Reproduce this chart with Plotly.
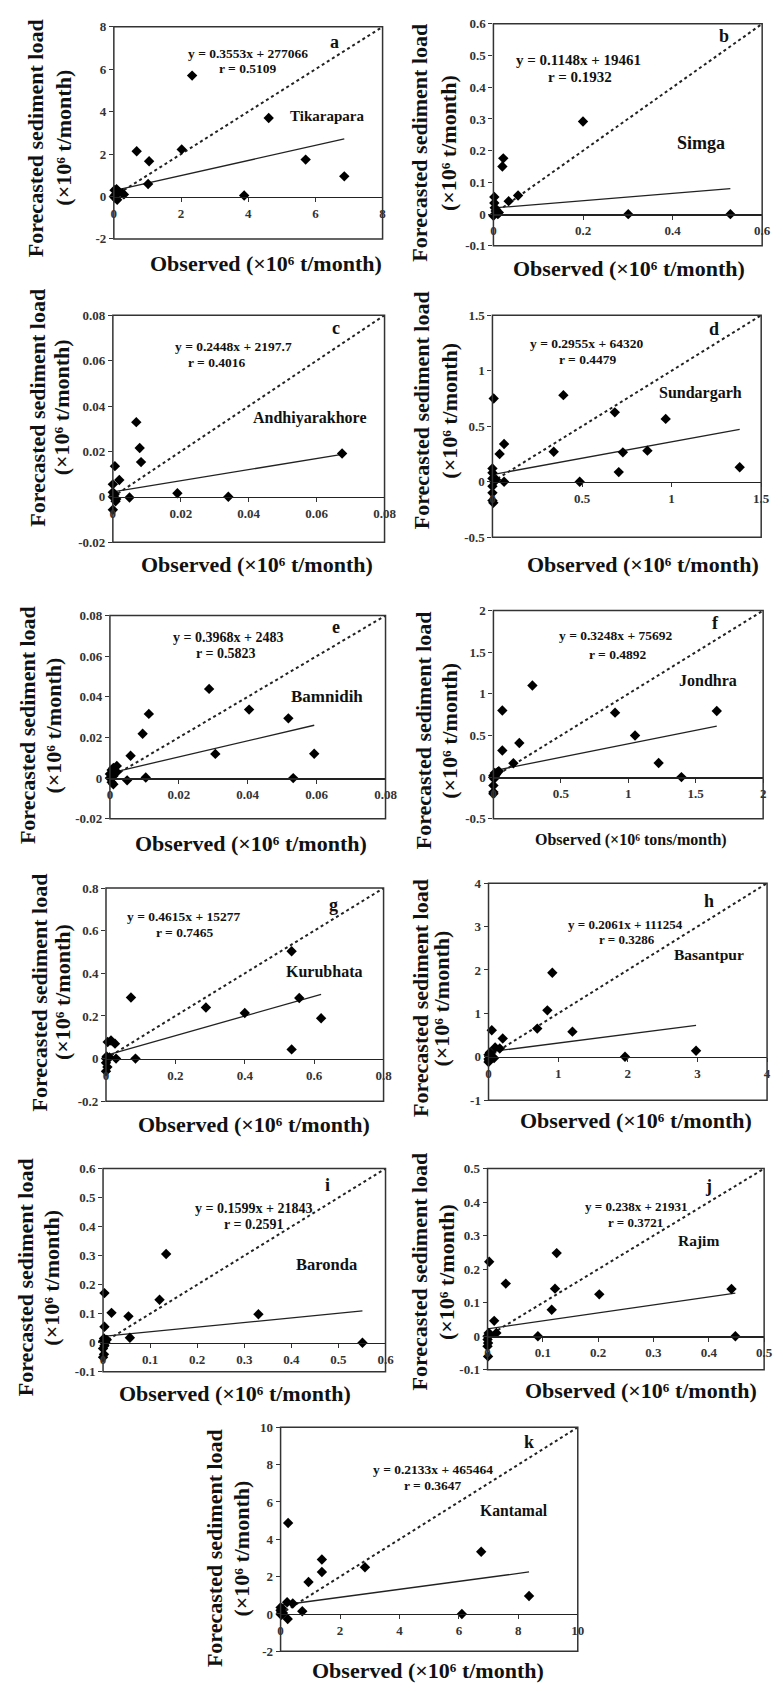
import plotly.graph_objects as go

W, H = 783, 1691

# ---------------- data ----------------
panel_letters = ["a", "b", "c", "d", "e", "f", "g", "h", "i", "j", "k"]
stations = ["Tikarapara", "Simga", "Andhiyarakhore", "Sundargarh", "Bamnidih", "Jondhra",
            "Kurubhata", "Basantpur", "Baronda", "Rajim", "Kantamal"]
slopes = [0.3553, 0.1148, 0.2448, 0.2955, 0.3968, 0.3248, 0.4615, 0.2061, 0.1599, 0.238, 0.2133]
intercepts = [277066, 19461, 2197.7, 64320, 2483, 75692, 15277, 111254, 21843, 21931, 465464]
r_values = [0.5109, 0.1932, 0.4016, 0.4479, 0.5823, 0.4892, 0.7465, 0.3286, 0.2591, 0.3721, 0.3647]

obs_a = [2.33, 4.61, 0.68, 2.02, 1.05, 5.71, 6.86, 1.02, 3.88, 0.02, 0.05, 0.10, 0.00, 0.15, 0.25, 0.08, 0.03, 0.30]
pred_a = [5.70, 3.70, 2.13, 2.22, 1.66, 1.74, 0.95, 0.59, 0.05, 0.30, 0.10, -0.15, 0.00, 0.20, 0.15, 0.35, -0.05, 0.10]

obs_b = [0.200, 0.022, 0.020, 0.055, 0.034, 0.002, 0.002, 0.005, 0.010, 0.000, 0.012, 0.003, 0.301, 0.529]
pred_b = [0.292, 0.176, 0.150, 0.059, 0.041, 0.054, 0.035, 0.010, 0.000, -0.005, 0.005, 0.020, 0.0, 0.0]

obs_c = [0.0675, 0.0079, 0.0083, 0.0069, 0.0006, 0.0019, 0.0, 0.019, 0.0049, 0.034, 0.0, 0.0, 0.0005, 0.001, 0.0, 0.0008]
pred_c = [0.0191, 0.0215, 0.0153, 0.0329, 0.0135, 0.0074, 0.0055, 0.0016, -0.0003, 0.0, -0.0057, 0.0, 0.001, -0.001, 0.002, -0.002]

obs_d = [0.007, 0.396, 0.683, 0.967, 0.04, 0.065, 0.342, 0.728, 0.865, 0.705, 1.38, 0.487, 0.065,
         0.0, 0.0, 0.0, 0.01, 0.0, 0.0, 0.0, 0.005, 0.02]
pred_d = [0.75, 0.78, 0.625, 0.566, 0.25, 0.34, 0.27, 0.265, 0.28, 0.087, 0.13, 0.0, 0.0,
          0.12, 0.08, 0.03, 0.0, -0.04, -0.1, -0.17, -0.19, 0.02]

obs_e = [0.0288, 0.0404, 0.0113, 0.0518, 0.0095, 0.0593, 0.0306, 0.006, 0.0104, 0.0532, 0.005,
         0.0005, 0.001, 0.002, 0.0, 0.0, 0.0005, 0.001, 0.002, 0.001]
pred_e = [0.0439, 0.0337, 0.0316, 0.0294, 0.0218, 0.012, 0.0119, 0.011, 0.0003, 0.0, -0.0011,
          0.004, 0.005, 0.006, 0.002, 0.0, -0.002, -0.003, 0.003, 0.001]

obs_f = [0.289, 0.066, 0.902, 1.656, 1.05, 0.192, 0.066, 0.148, 1.225, 1.394, 0.01, 0.03, 0.0,
         0.02, 0.0, 0.005, 0.01, 0.04, 0.0, 0.0, 0.0]
pred_f = [1.10, 0.80, 0.774, 0.794, 0.50, 0.41, 0.32, 0.167, 0.17, 0.0, 0.05, 0.06, 0.02,
          0.03, 0.0, -0.02, 0.01, 0.07, -0.1, -0.18, -0.2]

obs_g = [0.535, 0.072, 0.288, 0.40, 0.557, 0.62, 0.535, 0.085, 0.029, 0.0145, 0.005, 0.026,
         0.0, 0.002, 0.0, 0.004, 0.01, 0.0]
pred_g = [0.504, 0.287, 0.240, 0.214, 0.284, 0.189, 0.043, 0.0, 0.0, 0.085, 0.078, 0.07,
          0.0, 0.01, -0.02, -0.04, 0.005, -0.06]

obs_h = [0.916, 0.845, 0.70, 1.205, 0.047, 0.204, 0.095, 0.161, 2.98, 1.96, 0.0, 0.02, 0.05,
         0.0, 0.08, 0.03, 0.0, 0.01]
pred_h = [1.935, 1.07, 0.65, 0.58, 0.61, 0.42, 0.214, 0.19, 0.138, 0.0, 0.05, 0.1, 0.0,
          -0.05, -0.03, 0.03, -0.12, -0.08]

obs_i = [0.134, 0.120, 0.330, 0.054, 0.018, 0.003, 0.003, 0.057, 0.551, 0.002, 0.005, 0.0,
         0.008, 0.003, 0.0, 0.002, 0.0]
pred_i = [0.306, 0.148, 0.098, 0.091, 0.103, 0.171, 0.055, 0.017, 0.0, 0.015, 0.0, 0.005,
          0.01, -0.01, -0.02, -0.04, -0.05]

obs_j = [0.003, 0.033, 0.125, 0.122, 0.202, 0.116, 0.441, 0.012, 0.016, 0.091, 0.448, 0.0,
         0.002, 0.005, 0.0, 0.001, 0.0, 0.001]
pred_j = [0.222, 0.157, 0.248, 0.142, 0.125, 0.079, 0.141, 0.046, 0.01, 0.0, 0.0, 0.0,
          0.01, 0.005, -0.01, -0.02, -0.03, -0.06]

obs_k = [0.254, 6.75, 1.39, 1.39, 2.84, 0.94, 8.36, 0.22, 0.41, 0.73, 6.10, 0.24, 0.0, 0.02,
         0.05, 0.0, 0.03, 0.08, 0.0]
pred_k = [4.875, 3.33, 2.92, 2.25, 2.5, 1.71, 0.96, 0.625, 0.56, 0.146, 0.0, -0.27, 0.0, 0.1,
          0.3, 0.2, -0.05, 0.05, 0.35]

observed = [obs_a, obs_b, obs_c, obs_d, obs_e, obs_f, obs_g, obs_h, obs_i, obs_j, obs_k]
predicted = [pred_a, pred_b, pred_c, pred_d, pred_e, pred_f, pred_g, pred_h, pred_i, pred_j, pred_k]

xtick_labels = [
    ["0", "2", "4", "6", "8"],
    ["0", "0.2", "0.4", "0.6"],
    ["0", "0.02", "0.04", "0.06", "0.08"],
    ["0", "0.5", "1", "1.5"],
    ["0", "0.02", "0.04", "0.06", "0.08"],
    ["0", "0.5", "1", "1.5", "2"],
    ["0", "0.2", "0.4", "0.6", "0.8"],
    ["0", "1", "2", "3", "4"],
    ["0", "0.1", "0.2", "0.3", "0.4", "0.5", "0.6"],
    ["0", "0.1", "0.2", "0.3", "0.4", "0.5"],
    ["0", "2", "4", "6", "8", "10"],
]
ytick_labels = [
    ["-2", "0", "2", "4", "6", "8"],
    ["-0.1", "0", "0.1", "0.2", "0.3", "0.4", "0.5", "0.6"],
    ["-0.02", "0", "0.02", "0.04", "0.06", "0.08"],
    ["-0.5", "0", "0.5", "1", "1.5"],
    ["-0.02", "0", "0.02", "0.04", "0.06", "0.08"],
    ["-0.5", "0", "0.5", "1", "1.5", "2"],
    ["-0.2", "0", "0.2", "0.4", "0.6", "0.8"],
    ["-1", "0", "1", "2", "3", "4"],
    ["-0.1", "0", "0.1", "0.2", "0.3", "0.4", "0.5", "0.6"],
    ["-0.1", "0", "0.1", "0.2", "0.3", "0.4", "0.5"],
    ["-2", "0", "2", "4", "6", "8", "10"],
]
x_titles = ["Observed (×10⁶ t/month)"] * 11
x_titles[5] = "Observed (×10⁶ tons/month)"
y_title_1 = "Forecasted sediment load"
y_title_2 = "(×10⁶ t/month)"

# ---------------- layout (pixels) ----------------
# plot frame: left, right, top, bottom
frames = [
    (113, 387, 20, 234), (500, 774, 17, 241),
    (112, 389, 311, 540), (499, 773, 311, 535),
    (109, 390, 614, 819), (500, 775, 609, 819),
    (105, 388, 889, 1104), (495, 779, 884, 1103),
    (102, 390, 1172, 1377), (494, 776, 1172, 1375),
    (283, 586, 1433, 1659),
]
# annotation centres (x, y) in pixels
letter_pos = [(338, 35), (735, 29), (340, 324), (725, 325), (339, 626), (726, 622),
              (337, 906), (720, 902), (331, 1189), (719, 1190), (536, 1448)]
eq_pos = [(250, 47), (587, 53), (235, 343), (595, 340), (229, 636), (625, 634),
          (185, 918), (635, 926), (255, 1212), (646, 1210), (438, 1476)]
r_pos = [(250, 62), (588, 71), (218, 359), (596, 356), (227, 652), (627, 653),
         (186, 934), (636, 941), (255, 1228), (645, 1226), (438, 1492)]
name_pos = [(330, 110), (712, 137), (313, 415), (711, 389), (330, 696), (719, 680),
            (327, 973), (720, 956), (330, 1269), (709, 1245), (521, 1517)]
eq_size = [13.5, 15, 13.5, 13.5, 14, 13.5, 13.5, 13, 14, 13, 13.5]
name_size = [15, 18, 16, 16, 17, 16, 16, 15.5, 16.5, 15.5, 15.7]
xtitle_pos = [(268, 259), (638, 264), (259, 562), (653, 562), (253, 844), (640, 840),
              (256, 1127), (645, 1123), (237, 1399), (650, 1396), (433, 1678)]
xtitle_size = [22, 22, 22, 22, 22, 16, 22, 22, 22, 22, 22]
ytitle_pos = [(33, 62, 132), (425, 454, 137), (35, 60, 404), (427, 455, 407),
              (25, 52, 725), (429, 455, 730), (37, 60, 994), (425, 447, 1000),
              (23, 50, 1282), (425, 452, 1276), (215, 243, 1555)]

FONT = "Liberation Serif"
tickfont = dict(family=FONT, size=13, color="#333333", weight="bold")


def px(x):
    return x / W


def py(y):
    return 1 - y / H


def label(x, y, text, size, angle=0):
    return dict(x=px(x), y=py(y), xref="paper", yref="paper", text=text, showarrow=False,
                xanchor="center", yanchor="middle", textangle=angle,
                font=dict(family=FONT, size=size, color="#111111", weight="bold"))


fig = go.Figure()
annotations = []
shapes = []
layout_axes = {}

for p in range(11):
    xid = "x" if p == 0 else f"x{p + 1}"
    yid = "y" if p == 0 else f"y{p + 1}"
    xkey = "xaxis" if p == 0 else f"xaxis{p + 1}"
    ykey = "yaxis" if p == 0 else f"yaxis{p + 1}"
    l, r, t, b = frames[p]
    xt = xtick_labels[p]
    yt = ytick_labels[p]
    xmax = float(xt[-1])
    ymin = float(yt[0])
    ymax = float(yt[-1])
    y0, y1 = py(b), py(t)
    zero_pos = y0 + (0 - ymin) / (ymax - ymin) * (y1 - y0)

    layout_axes[xkey] = dict(
        domain=[px(l), px(r)], range=[0, xmax], anchor="free", position=zero_pos,
        tickvals=[float(v) for v in xt], ticktext=xt, ticks="outside", ticklen=4,
        tickwidth=1, tickcolor="#333333", showline=True, linecolor="#222222", linewidth=1.5,
        showgrid=False, zeroline=False, tickfont=tickfont, fixedrange=True,
    )
    layout_axes[ykey] = dict(
        domain=[y0, y1], range=[ymin, ymax], anchor=xid,
        tickvals=[float(v) for v in yt], ticktext=yt, ticks="outside", ticklen=4,
        tickwidth=1, tickcolor="#333333", showline=False, showgrid=False, zeroline=False,
        tickfont=tickfont, fixedrange=True,
    )
    shapes.append(dict(type="rect", xref=f"{xid} domain", yref=f"{yid} domain",
                       x0=0, x1=1, y0=0, y1=1, line=dict(color="#333333", width=1.5),
                       layer="above"))

    obs = observed[p]
    pred = predicted[p]
    # 1:1 line
    fig.add_trace(go.Scatter(x=[0, xmax], y=[0, xmax], mode="lines", xaxis=xid, yaxis=yid,
                             line=dict(color="#222222", width=2, dash="dot"),
                             showlegend=False, hoverinfo="skip"))
    # regression line
    xs = [min(obs), max(obs)]
    ys = [slopes[p] * v + intercepts[p] / 1e6 for v in xs]
    fig.add_trace(go.Scatter(x=xs, y=ys, mode="lines", xaxis=xid, yaxis=yid,
                             line=dict(color="#222222", width=1.3),
                             showlegend=False, hoverinfo="skip"))
    # points
    fig.add_trace(go.Scatter(x=obs, y=pred, mode="markers", xaxis=xid, yaxis=yid,
                             marker=dict(symbol="diamond", size=8, color="black"),
                             showlegend=False, cliponaxis=False))

    annotations.append(label(*letter_pos[p], panel_letters[p], 18))
    annotations.append(label(*eq_pos[p], f"y = {slopes[p]}x + {intercepts[p]}", eq_size[p]))
    annotations.append(label(*r_pos[p], f"r = {r_values[p]}", eq_size[p]))
    annotations.append(label(*name_pos[p], stations[p], name_size[p]))
    annotations.append(label(*xtitle_pos[p], x_titles[p], xtitle_size[p]))
    yl1, yl2, yc = ytitle_pos[p]
    annotations.append(label(yl1, yc, y_title_1, 22, -90))
    annotations.append(label(yl2, yc, y_title_2, 22, -90))

fig.update_layout(
    width=W, height=H, autosize=False,
    margin=dict(l=0, r=0, t=0, b=0, pad=0),
    paper_bgcolor="white", plot_bgcolor="white",
    showlegend=False, annotations=annotations, shapes=shapes,
    **layout_axes,
)

fig.write_html("out.html", config={"displayModeBar": False, "staticPlot": True})
